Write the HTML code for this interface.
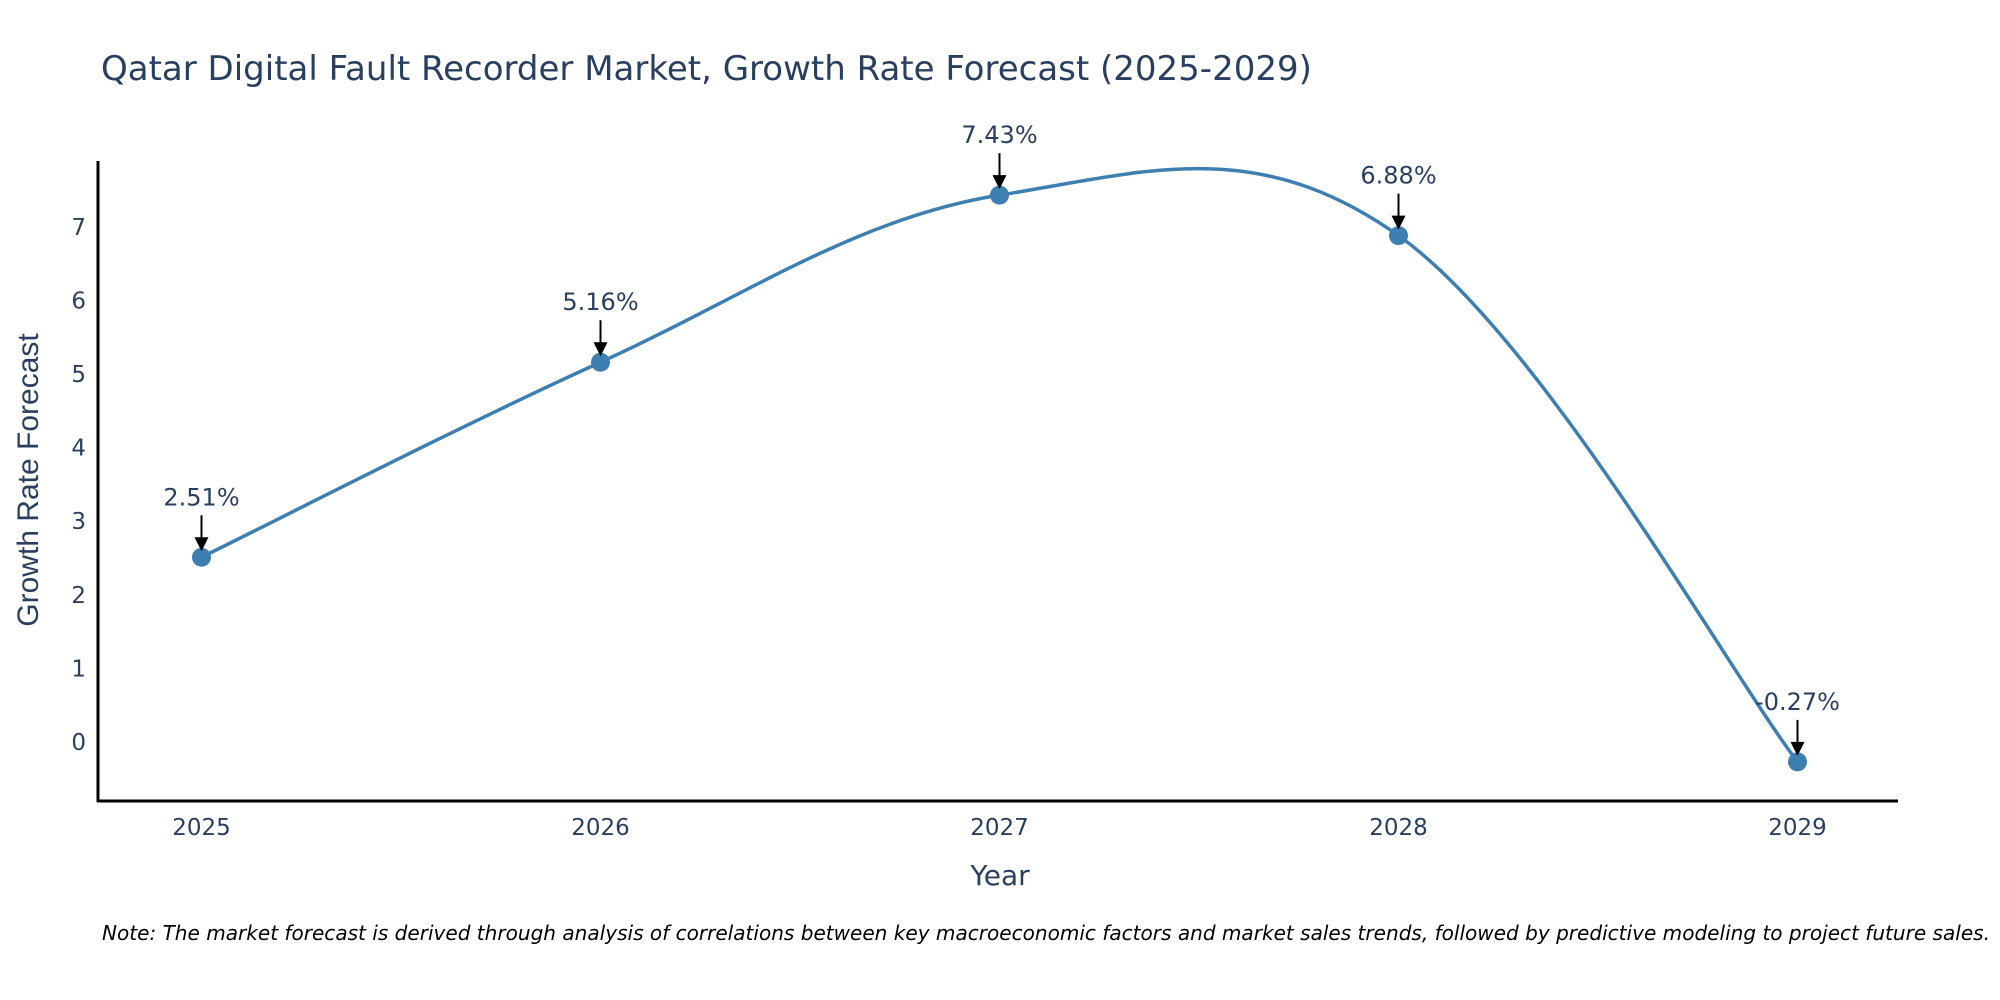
<!DOCTYPE html>
<html><head><meta charset="utf-8"><style>
body{margin:0;background:#fff;}
svg{display:block;font-family:"DejaVu Sans","Liberation Sans",sans-serif;}
</style></head><body>
<svg id="chart" width="2000" height="1000" viewBox="0 0 2000 1000">
<text x="101" y="80" font-size="34" fill="#2a3f5f">Qatar Digital Fault Recorder Market, Growth Rate Forecast (2025-2029)</text>
<g id="yticks"></g>
<g id="xticks"></g>
<line x1="98" y1="161" x2="98" y2="802" stroke="#000" stroke-width="3"/>
<line x1="97" y1="801" x2="1898" y2="801" stroke="#000" stroke-width="3"/>
<text transform="translate(38,480) rotate(-90)" text-anchor="middle" font-size="30" fill="#2a3f5f" font-family="Liberation Sans, sans-serif">Growth Rate Forecast</text>
<text x="1000" y="885" text-anchor="middle" font-size="28" fill="#2a3f5f">Year</text>
<g id="series"></g>
<g id="annos"></g>
<text x="102" y="940" font-size="20" font-style="italic" fill="#000" textLength="1888" lengthAdjust="spacingAndGlyphs">Note: The market forecast is derived through analysis of correlations between key macroeconomic factors and market sales trends, followed by predictive modeling to project future sales.</text>
</svg>
<script>
const years = [2025, 2026, 2027, 2028, 2029];
const growth = [2.51, 5.16, 7.43, 6.88, -0.27];
const labels = ["2.51%", "5.16%", "7.43%", "6.88%", "-0.27%"];
const yTicks = [0, 1, 2, 3, 4, 5, 6, 7];

const NS = "http://www.w3.org/2000/svg";
function X(v){ return 201.5 + (v - 2025) * 399; }
function Y(v){ return 742 - v * 73.6; }
function mk(tag, attrs, parent){
  const e = document.createElementNS(NS, tag);
  for (const k in attrs) e.setAttribute(k, attrs[k]);
  parent.appendChild(e); return e;
}
const yg = document.getElementById('yticks');
yTicks.forEach(t => {
  const e = mk('text', {x: 86, y: Y(t) + 8, 'text-anchor': 'end', 'font-size': 23, fill: '#2a3f5f'}, yg);
  
  
  e.textContent = t;
});
const xg = document.getElementById('xticks');
years.forEach(y => {
  const e = mk('text', {x: X(y), y: 835, 'text-anchor': 'middle', 'font-size': 23, fill: '#2a3f5f'}, xg);
  
  
  e.textContent = y;
});
const pts = years.map((y, i) => [X(y), Y(growth[i])]);
const s = 0.18;
let d = `M${pts[0][0]},${pts[0][1]}`;
for (let i = 0; i < pts.length - 1; i++) {
  const p0 = pts[Math.max(0, i - 1)], p1 = pts[i], p2 = pts[i + 1], p3 = pts[Math.min(pts.length - 1, i + 2)];
  const c1 = [p1[0] + (p2[0] - p0[0]) * s, p1[1] + (p2[1] - p0[1]) * s];
  const c2 = [p2[0] - (p3[0] - p1[0]) * s, p2[1] - (p3[1] - p1[1]) * s];
  d += ` C${c1[0]},${c1[1]} ${c2[0]},${c2[1]} ${p2[0]},${p2[1]}`;
}
const sg = document.getElementById('series');
const line = mk('path', {d: d, fill: 'none', stroke: '#3d7fb0', 'stroke-width': 3.5}, sg);


pts.forEach(p => {
  const c = mk('circle', {cx: p[0], cy: p[1], r: 9.5, fill: '#3d7fb0'}, sg);
  
  
});
const ag = document.getElementById('annos');
pts.forEach((p, i) => {
  const l = mk('line', {x1: p[0], y1: p[1] - 42, x2: p[0], y2: p[1] - 18, stroke: '#000', 'stroke-width': 2}, ag);
  
  
  const h = mk('polygon', {points: `${p[0]-7},${p[1]-20} ${p[0]+7},${p[1]-20} ${p[0]},${p[1]-6}`, fill: '#000'}, ag);
  
  
  const t = mk('text', {x: p[0], y: p[1] - 52, 'text-anchor': 'middle', 'font-size': 24, fill: '#2a3f5f'}, ag);
  
  
  t.textContent = labels[i];
});
</script>
</body></html>
